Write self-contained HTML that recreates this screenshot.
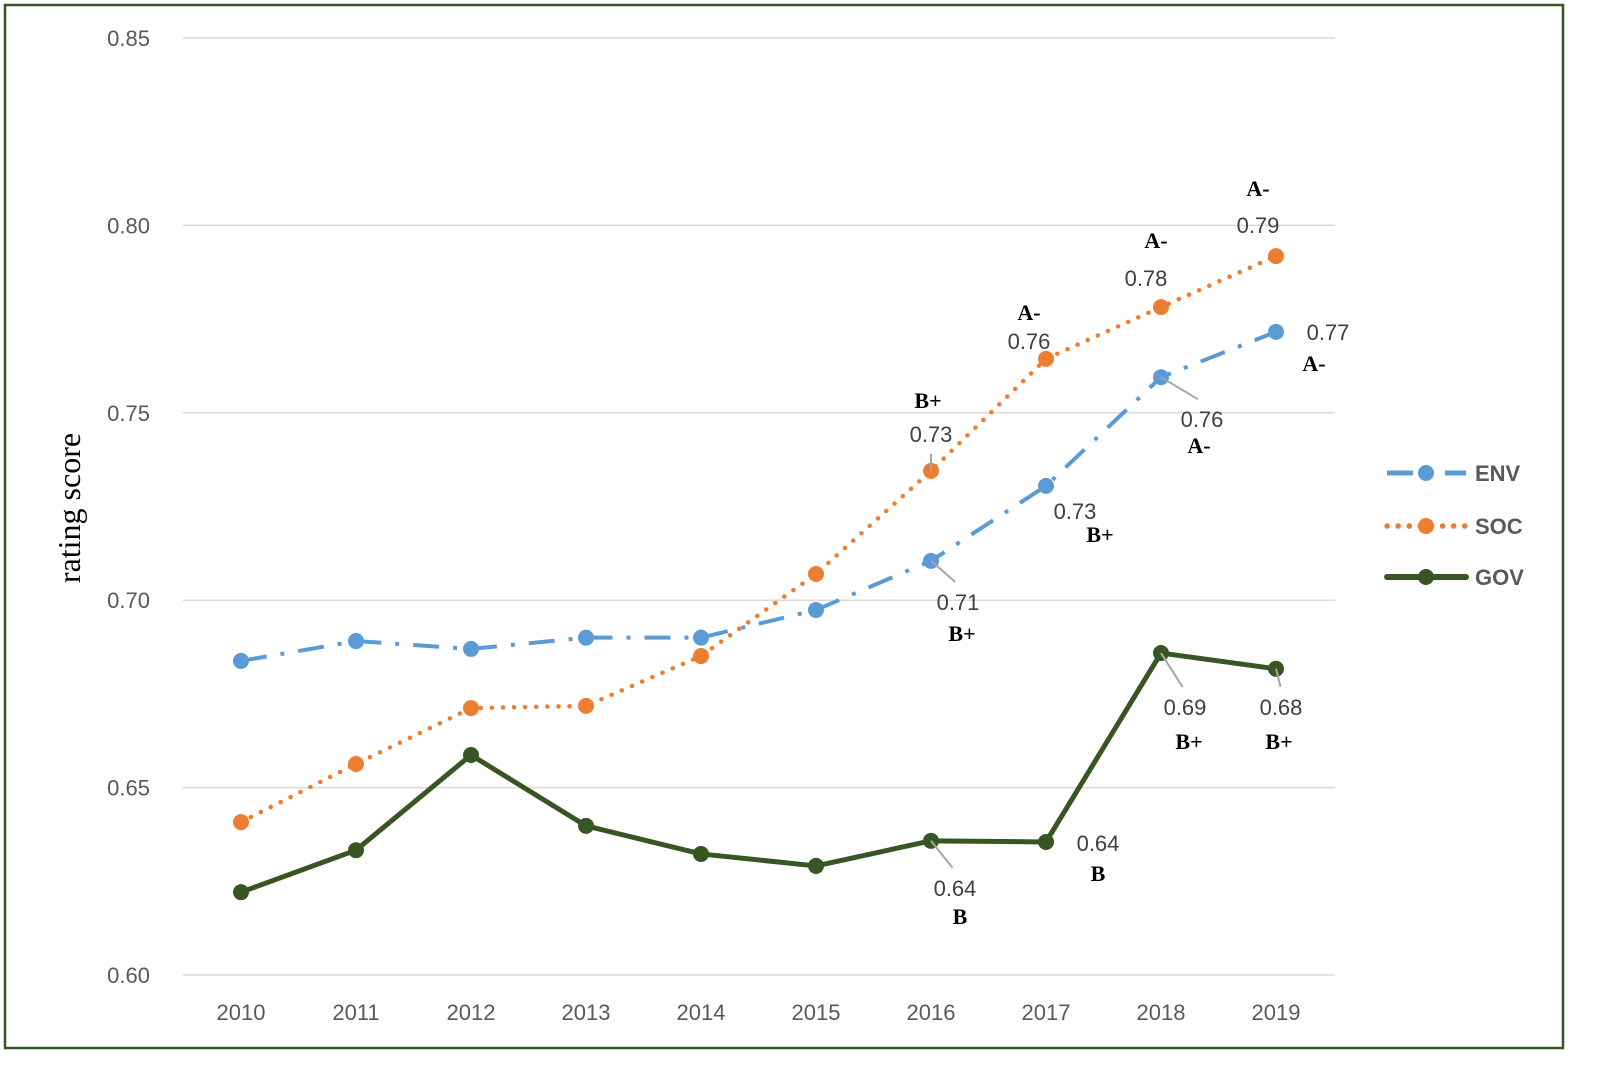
<!DOCTYPE html>
<html><head><meta charset="utf-8"><style>
html,body{margin:0;padding:0;background:#fff}
svg{display:block}
</style></head><body>
<svg id="chart" width="1600" height="1074" viewBox="0 0 1600 1074" xmlns="http://www.w3.org/2000/svg">
<rect x="5" y="5" width="1558" height="1043" fill="#fff" stroke="#375623" stroke-width="2.5"/>
<g id="grid"></g><g id="axes"></g><g id="series"></g><g id="ann"></g><g id="legend"></g>
<text transform="translate(80,508) rotate(-90)" text-anchor="middle" font-family="Liberation Serif, serif" font-size="32" fill="#000">rating  score</text>
</svg>
<script>
const years=["2010","2011","2012","2013","2014","2015","2016","2017","2018","2019"];
const yTicks=[0.60,0.65,0.70,0.75,0.80,0.85];
const envValues=[0.6838,0.6891,0.687,0.690,0.690,0.6974,0.7105,0.7305,0.7595,0.7716];
const socValues=[0.6408,0.6563,0.6712,0.6718,0.6851,0.707,0.7345,0.7644,0.7782,0.7918];
const govValues=[0.6221,0.6333,0.6587,0.6398,0.6323,0.6291,0.6358,0.6355,0.6859,0.6817];
const seriesNames=["ENV","SOC","GOV"];
const annSeries=["SOC","SOC","SOC","SOC","ENV","ENV","ENV","ENV","GOV","GOV","GOV","GOV"];
const annIndex=[6,7,8,9,9,8,7,6,8,9,6,7];
const annValue=["0.73","0.76","0.78","0.79","0.77","0.76","0.73","0.71","0.69","0.68","0.64","0.64"];
const annGrade=["B+","A-","A-","A-","A-","A-","B+","B+","B+","B+","B","B"];
const annOff=[[0,-37,-3,-71,true],[-17,-18,-17,-47,false],[-15,-29,-5,-67,false],[-18,-31,-18,-68,false],[52,0,38,31,false],[41,42,38,68,true],[29,25,54,48,false],[27,41,31,72,true],[24,54,28,88,true],[5,38,3,72,true],[24,47,29,75,true],[52,1,52,31,false]];

const NS="http://www.w3.org/2000/svg";
const X=i=>241+i*115;
const Y=v=>975-(v-0.60)/0.25*937;
function mk(tag,attrs,parent){const e=document.createElementNS(NS,tag);for(const k in attrs)e.setAttribute(k,attrs[k]);parent.appendChild(e);return e;}
const grid=document.getElementById('grid'),axes=document.getElementById('axes'),ser=document.getElementById('series'),ann=document.getElementById('ann'),leg=document.getElementById('legend');
yTicks.forEach(t=>{
 const l=mk('line',{x1:183,x2:1335,y1:Y(t),y2:Y(t),stroke:'#d9d9d9','stroke-width':1.5},grid);
 
 
 const tx=mk('text',{x:150,y:Y(t)+8,'text-anchor':'end','font-family':'Liberation Sans, sans-serif','font-size':22,fill:'#595959'},axes);
 tx.textContent=t.toFixed(2);
 
 
});
years.forEach((y,i)=>{
 const tx=mk('text',{x:X(i),y:1020,'text-anchor':'middle','font-family':'Liberation Sans, sans-serif','font-size':22,fill:'#595959'},axes);
 tx.textContent=y;
 
 
});
const styles={ENV:{c:'#5b9bd5',w:4,d:'26 14 4 14',cap:'butt',v:envValues},SOC:{c:'#ed7d31',w:4.5,d:'0.1 11',cap:'round',v:socValues},GOV:{c:'#375623',w:5,d:'',cap:'round',v:govValues}};
seriesNames.forEach(n=>{
 const s=styles[n];
 const p=mk('polyline',{points:s.v.map((v,i)=>X(i)+','+Y(v)).join(' '),fill:'none',stroke:s.c,'stroke-width':s.w,'stroke-dasharray':s.d,'stroke-linecap':s.cap,'stroke-linejoin':'round'},ser);
 
 
 s.v.forEach((v,i)=>{
  const c=mk('circle',{cx:X(i),cy:Y(v),r:8,fill:s.c},ser);
  
  
 });
});
annSeries.forEach((n,k)=>{
 const i=annIndex[k],v=styles[n].v[i],px=X(i),py=Y(v),o=annOff[k];
 if(o[4]){
  const ln=mk('line',{x1:px,y1:py,x2:px+o[0]*0.9,y2:py+o[1]-(o[1]>0?20:-20),stroke:'#a6a6a6','stroke-width':2},ann);
  
  
 }
 const t=mk('text',{x:px+o[0],y:py+o[1]+8,'text-anchor':'middle','font-family':'Liberation Sans, sans-serif','font-size':22,fill:'#404040'},ann);
 t.textContent=annValue[k];
 
 
 const g=mk('text',{x:px+o[2],y:py+o[3]+8,'text-anchor':'middle','font-family':'Liberation Serif, serif','font-weight':'bold','font-size':22,fill:'#000'},ann);
 g.textContent=annGrade[k];
 
 
});
const legY=[473,526,577];
seriesNames.forEach((n,k)=>{
 const s=styles[n];
 const l=mk('line',{x1:1387,x2:1466,y1:legY[k],y2:legY[k],stroke:s.c,'stroke-width':s.w+1,'stroke-dasharray':s.d,'stroke-linecap':s.cap},leg);
 
 
 const c=mk('circle',{cx:1426,cy:legY[k],r:8,fill:s.c},leg);
 
 
 const t=mk('text',{x:1475,y:legY[k]+8,'font-family':'Liberation Sans, sans-serif','font-size':22,'font-weight':'bold',fill:'#595959'},leg);
 t.textContent=n;
 
 
});
</script>
</body></html>
